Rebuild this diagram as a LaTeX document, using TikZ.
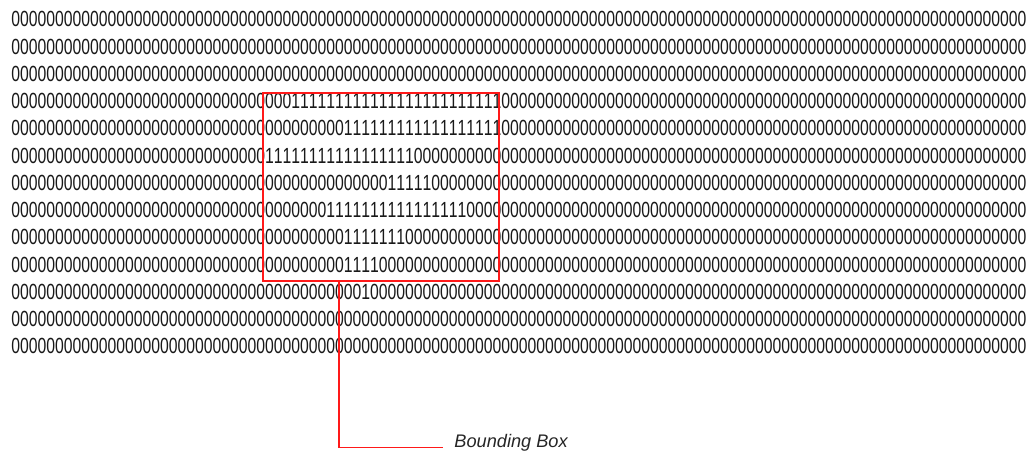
\documentclass[tikz,border=0pt]{standalone}
\usepackage{fontspec}
\usepackage{graphicx}
\setmainfont{Liberation Sans}
\newfontfamily\bitfont{Liberation Sans}[Kerning=Off]
\usetikzlibrary{calc,fit}

% one run of equal bits
\newcommand{\run}[2]{\foreach\n in {1,...,#1}{#2}}
\newcommand{\bits}[1]{\scalebox{0.7186}[1]{#1}}

\begin{document}
\begin{tikzpicture}[
    x=0.5pt, y=-0.5pt,
    bitrow/.style={anchor=base west, inner sep=0pt, text=black!90,
                   font=\fontsize{10.95pt}{11pt}\bitfont},
    bbox/.style={draw=red!90!white, line width=0.85pt, inner sep=0pt},
    leader/.style={draw=red!90!white, line width=0.85pt},
    tag/.style={anchor=base west, inner xsep=5.5pt, inner ysep=0pt, text=black!85,
                font=\fontsize{9.1pt}{10pt}\selectfont\itshape},
]
\useasboundingbox (0,0) rectangle (1031,453);

% ---- bit rows ----
\def\xo{11}
\def\yo{26.85}
\def\dy{27.25}
\node[bitrow] (r1)  at (\xo, \yo+0*\dy)  {\bits{\run{116}{0}}};
\node[bitrow] (r2)  at (\xo, \yo+1*\dy)  {\bits{\run{116}{0}}};
\node[bitrow] (r3)  at (\xo, \yo+2*\dy)  {\bits{\run{116}{0}}};
\node[bitrow] (r4)  at (\xo, \yo+3*\dy)  {\bits{\run{32}{0}\run{24}{1}\run{60}{0}}};
\node[bitrow] (r5)  at (\xo, \yo+4*\dy)  {\bits{\run{38}{0}\run{18}{1}\run{60}{0}}};
\node[bitrow] (r6)  at (\xo, \yo+5*\dy)  {\bits{\run{29}{0}\run{17}{1}\run{70}{0}}};
\node[bitrow] (r7)  at (\xo, \yo+6*\dy)  {\bits{\run{43}{0}\run{5}{1}\run{68}{0}}};
\node[bitrow] (r8)  at (\xo, \yo+7*\dy)  {\bits{\run{36}{0}\run{16}{1}\run{64}{0}}};
\node[bitrow] (r9)  at (\xo, \yo+8*\dy)  {\bits{\run{38}{0}\run{7}{1}\run{71}{0}}};
\node[bitrow] (r10) at (\xo, \yo+9*\dy)  {\bits{\run{38}{0}\run{4}{1}\run{74}{0}}};
\node[bitrow] (r11) at (\xo, \yo+10*\dy) {\bits{\run{40}{0}\run{1}{1}\run{75}{0}}};
\node[bitrow] (r12) at (\xo, \yo+11*\dy) {\bits{\run{116}{0}}};
\node[bitrow] (r13) at (\xo, \yo+12*\dy) {\bits{\run{116}{0}}};

% ---- bounding box ----
\node[bbox, fit={(263,92.7) (499,281)}] (box) {};

% ---- label ----
\node[tag] (tag) at (443,447.5) {Bounding Box};
\coordinate (tap) at ($(box.south west)!0.322!(box.south east)$);
\draw[leader] (tap) |- (tag.base west);

\end{tikzpicture}
\end{document}
